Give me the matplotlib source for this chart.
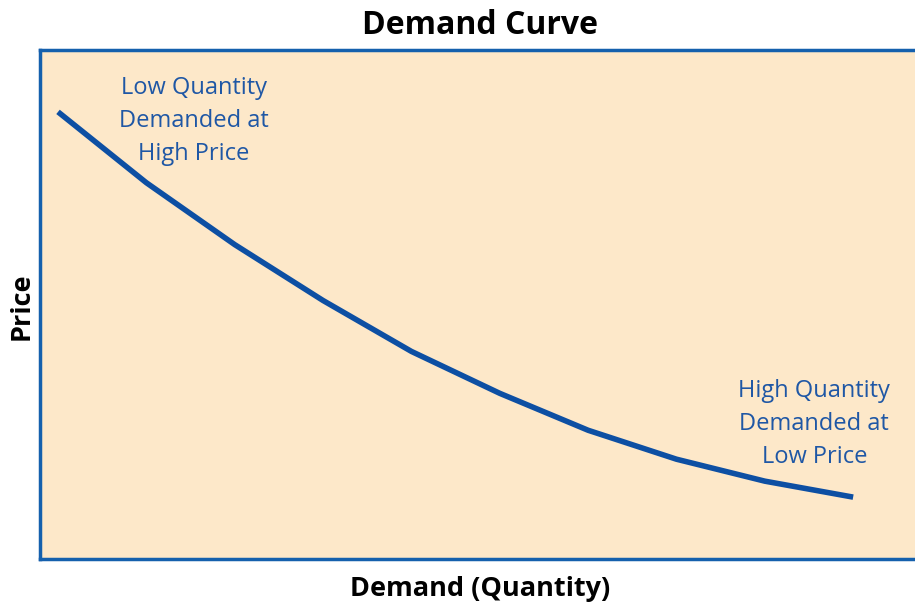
import matplotlib.pyplot as plt

# demand curve values
quantity = [1, 2, 3, 4, 5, 6, 7, 8, 9, 10]
price = [448, 377, 315, 259, 208, 166, 129, 100, 78, 62]

title = "Demand Curve"
xlabel = "Demand (Quantity)"
ylabel = "Price"
note_top = "Low Quantity\nDemanded at\nHigh Price"
note_bottom = "High Quantity\nDemanded at\nLow Price"

BLUE = "#0d4fa3"
TEXT_BLUE = "#1f57a5"
BG = "#fde8c9"

plt.rcParams['font.family'] = ['Open Sans', 'DejaVu Sans']

W, H = 915, 605
fig = plt.figure(figsize=(W / 100, H / 100), dpi=100)
ax = fig.add_axes([40 / W, 46 / H, 890 / W, 509 / H])
ax.set_facecolor(BG)

ax.plot(quantity, price, color=BLUE, lw=4, solid_capstyle='butt')
ax.set_xlim(0.796, 10.87)
ax.set_ylim(0, 510)
ax.set_xticks([])
ax.set_yticks([])
for s in ax.spines.values():
    s.set_color("#1560ad")
    s.set_linewidth(2.5)

ax.text(2.54, 439, note_top, color=TEXT_BLUE, fontsize=17, ha='center', va='center',
        linespacing=1.5)
ax.text(9.56, 135, note_bottom, color=TEXT_BLUE, fontsize=17, ha='center', va='center',
        linespacing=1.5)

fig.text(480 / W, 1 - 25 / H, title, fontsize=23, fontweight='bold', ha='center', va='center')
fig.text(480 / W, 1 - 589 / H, xlabel, fontsize=19.5, fontweight='bold', ha='center', va='center')
fig.text(22 / W, 1 - 306 / H, ylabel, fontsize=19.5, fontweight='bold', ha='center', va='center',
         rotation=90)

fig.savefig("out.png", dpi=100)
